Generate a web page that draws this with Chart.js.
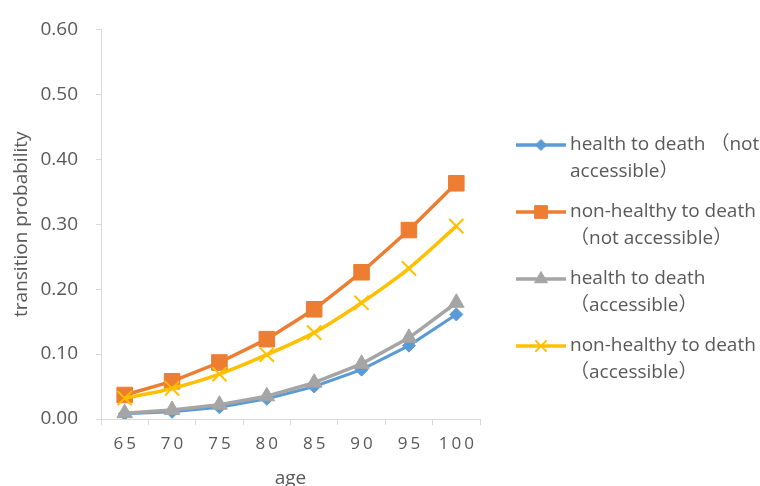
<!DOCTYPE html>
<html>
<head>
<meta charset="utf-8">
<script src="https://cdn.jsdelivr.net/npm/chart.js@4/dist/chart.umd.min.js"></script>
<style>
  html, body { margin: 0; padding: 0; background: #ffffff; }
  #wrap { width: 760px; height: 486px; }
</style>
</head>
<body>
<div id="wrap"><canvas id="c" width="760" height="486"></canvas></div>
<script>
// Ages on the horizontal axis
const ages = ['65', '70', '75', '80', '85', '90', '95', '100'];

// Annual transition probabilities to death
const healthNotAccessible    = [0.008, 0.011, 0.018, 0.031, 0.050, 0.076, 0.113, 0.161];
const nonHealthyNotAccessible = [0.037, 0.058, 0.087, 0.123, 0.169, 0.226, 0.291, 0.363];
const healthAccessible       = [0.009, 0.014, 0.022, 0.035, 0.056, 0.085, 0.125, 0.179];
const nonHealthyAccessible   = [0.032, 0.047, 0.069, 0.099, 0.133, 0.179, 0.232, 0.297];

// Series labels (two lines each in the legend)
const seriesLabels = [
  ['health to death （not', 'accessible）'],
  ['non-healthy to death', '（not accessible）'],
  ['health to death', '（accessible）'],
  ['non-healthy to death', '（accessible）']
];

// Y tick values
const yTicks = [0, 0.1, 0.2, 0.3, 0.4, 0.5, 0.6];

const BLUE = '#5B9BD5', ORANGE = '#ED7D31', GRAY = '#A5A5A5', GOLD = '#FFC000';
const TEXT = '#595959', AXIS = '#D9D9D9';
const FONT = "'Open Sans', 'Noto Sans CJK SC', sans-serif";

const legendStyles = [
  { color: BLUE,   pointStyle: 'rectRot',  radius: 5.5, borderWidth: 1 },
  { color: ORANGE, pointStyle: 'rect',     radius: 9,   borderWidth: 1 },
  { color: GRAY,   pointStyle: 'triangle', radius: 7.5, borderWidth: 1 },
  { color: GOLD,   pointStyle: 'crossRot', radius: 8,   borderWidth: 2 }
];

// Legend drawn at the right side of the canvas, with wrapped labels
const sideLegend = {
  id: 'sideLegend',
  afterDraw(chart) {
    const ctx = chart.ctx;
    const x0 = 516, x1 = 566, tx = 570;
    const top = 145, step = 67, lineGap = 27;
    ctx.save();
    ctx.font = '19px ' + FONT;
    ctx.fillStyle = TEXT;
    ctx.textBaseline = 'middle';
    ctx.textAlign = 'left';
    seriesLabels.forEach((lines, i) => {
      const y = top + i * step;
      const st = legendStyles[i];
      ctx.strokeStyle = st.color;
      ctx.lineWidth = 3.5;
      ctx.beginPath();
      ctx.moveTo(x0, y);
      ctx.lineTo(x1, y);
      ctx.stroke();
      ctx.fillStyle = st.color;
      ctx.strokeStyle = st.color;
      ctx.lineWidth = st.borderWidth;
      Chart.helpers.drawPoint(ctx, {
        pointStyle: st.pointStyle, radius: st.radius, rotation: 0, borderWidth: st.borderWidth
      }, (x0 + x1) / 2, y);
      ctx.fillStyle = TEXT;
      lines.forEach((t, k) => ctx.fillText(t, tx, y + k * lineGap));
    });
    ctx.restore();
  }
};

// Spaced-out digits on the age axis
const spacedAgeLabels = {
  id: 'spacedAgeLabels',
  afterLayout(chart) {
    const sx = chart.scales.x;
    if (sx && !sx._spaced) {
      const orig = sx.drawLabels.bind(sx);
      sx.drawLabels = function (area) {
        const ctx = this.ctx;
        ctx.save();
        ctx.letterSpacing = '3px';
        ctx.translate(1.5, 0);
        orig(area);
        ctx.restore();
      };
      sx._spaced = true;
    }
  }
};

new Chart(document.getElementById('c'), {
  type: 'line',
  data: {
    labels: ages,
    datasets: [
      {
        label: seriesLabels[0].join(''), data: healthNotAccessible,
        borderColor: BLUE, backgroundColor: BLUE, borderWidth: 3,
        pointStyle: 'rectRot', pointRadius: 6.5, pointBorderWidth: 1,
        pointBackgroundColor: BLUE, pointBorderColor: BLUE, tension: 0, order: 3
      },
      {
        label: seriesLabels[1].join(''), data: nonHealthyNotAccessible,
        borderColor: ORANGE, backgroundColor: ORANGE, borderWidth: 3.5,
        pointStyle: 'rect', pointRadius: 11, pointBorderWidth: 1,
        pointBackgroundColor: ORANGE, pointBorderColor: ORANGE, tension: 0, order: 2
      },
      {
        label: seriesLabels[2].join(''), data: healthAccessible,
        borderColor: GRAY, backgroundColor: GRAY, borderWidth: 3.5,
        pointStyle: 'triangle', pointRadius: 9, pointBorderWidth: 1,
        pointBackgroundColor: GRAY, pointBorderColor: GRAY, tension: 0, order: 1
      },
      {
        label: seriesLabels[3].join(''), data: nonHealthyAccessible,
        borderColor: GOLD, backgroundColor: GOLD, borderWidth: 3.5,
        pointStyle: 'crossRot', pointRadius: 10, pointBorderWidth: 2,
        pointBackgroundColor: GOLD, pointBorderColor: GOLD, tension: 0.3, order: 0
      }
    ]
  },
  options: {
    responsive: false,
    animation: false,
    layout: { padding: { left: 0, right: 280, top: 25, bottom: 0 } },
    plugins: {
      legend: { display: false },
      tooltip: { enabled: false }
    },
    scales: {
      x: {
        type: 'category',
        offset: true,
        grid: { offset: true, drawOnChartArea: false, drawTicks: true, tickLength: 6, color: AXIS },
        border: { display: true, color: AXIS, width: 1 },
        ticks: { color: TEXT, font: { family: FONT, size: 17 }, padding: 9, maxRotation: 0, autoSkip: false },
        title: { display: true, text: 'age', color: TEXT, font: { family: FONT, size: 19, lineHeight: 0.8 }, padding: 0 },
        afterFit(scale) { scale.height = 67; }
      },
      y: {
        min: 0, max: 0.6,
        afterBuildTicks(scale) { scale.ticks = yTicks.map(v => ({ value: v })); },
        grid: { drawOnChartArea: false, drawTicks: true, tickLength: 5, color: AXIS },
        border: { display: true, color: AXIS, width: 1 },
        ticks: {
          color: TEXT, font: { family: FONT, size: 19 }, padding: 18,
          callback: v => Number(v).toFixed(2)
        },
        title: {
          display: true, text: 'transition probability', color: TEXT,
          font: { family: FONT, size: 19 }, padding: { top: 10, bottom: 0 }
        },
        afterFit(scale) { scale.width = 101; }
      }
    }
  },
  plugins: [spacedAgeLabels, sideLegend]
});
</script>
</body>
</html>
